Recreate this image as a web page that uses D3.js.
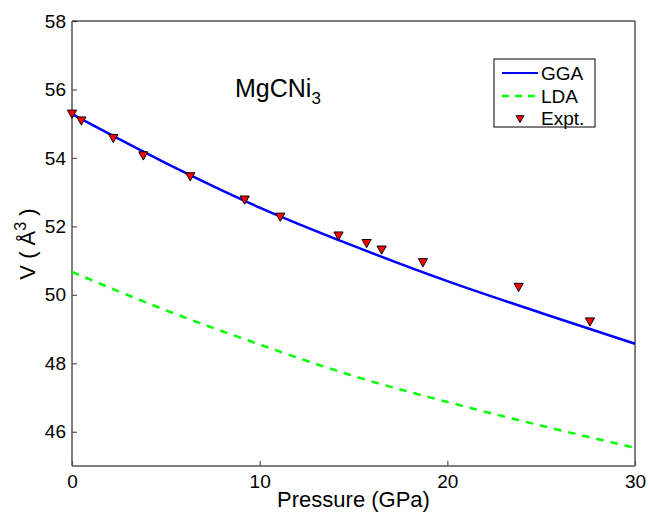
<!DOCTYPE html>
<html>
<head>
<meta charset="utf-8">
<script src="https://cdn.jsdelivr.net/npm/d3@7"></script>
<style>
body { margin: 0; background: #fff; }
text { font-family: "Liberation Sans", Arial, Helvetica, sans-serif; fill: #000; }
</style>
</head>
<body>
<svg id="chart" width="649" height="513"></svg>
<script>
// values
const pressure_ticks = [0, 10, 20, 30];
const volume_ticks = [46, 48, 50, 52, 54, 56, 58];

const gga_pressure = [0, 5, 10, 15, 20, 25, 30];
const gga_volume = [55.28, 53.85, 52.55, 51.43, 50.40, 49.47, 48.57];

const lda_pressure = [0, 5, 10, 15, 20, 25, 30];
const lda_volume = [50.67, 49.55, 48.55, 47.63, 46.87, 46.18, 45.53];

const expt_pressure = [0, 0.5, 2.2, 3.8, 6.3, 9.2, 11.1, 14.2, 15.7, 16.5, 18.7, 23.8, 27.6];
const expt_volume = [55.28, 55.08, 54.57, 54.06, 53.45, 52.77, 52.27, 51.72, 51.50, 51.31, 50.94, 50.22, 49.21];

const legend_labels = ["GGA", "LDA", "Expt."];

class EOSChart {
    constructor(container_id) {
        this.svg = d3.select("#" + container_id);
        this.left = 72;
        this.right = 635;
        this.top = 21;
        this.bottom = 466;
        this.x = d3.scaleLinear().domain([0, 30]).range([this.left, this.right]);
        this.y = d3.scaleLinear().domain([45, 58]).range([this.bottom, this.top]);
        // downward pointing triangle marker
        this.marker = "M-4.6,-4 L4.6,-4 L0,4.2 Z";
    }

    render() {
        const svg = this.svg;
        const x = this.x, y = this.y;
        const axis_color = "#555";

        // Axes with ticks pointing into the plot.
        const xAxis = svg.append("g")
            .attr("transform", `translate(0,${this.bottom})`)
            .call(d3.axisBottom(x).tickValues(pressure_ticks).tickSize(-5).tickPadding(9));
        const yAxis = svg.append("g")
            .attr("transform", `translate(${this.left},0)`)
            .call(d3.axisLeft(y).tickValues(volume_ticks).tickSize(-5).tickPadding(6));
        [xAxis, yAxis].forEach(a => {
            a.select(".domain").remove();
            a.selectAll("line").attr("stroke", axis_color).attr("stroke-width", 1.2);
            a.selectAll("text").style("font-size", "19px").attr("fill", "#000");
        });

        // Frame around the plot area.
        svg.append("line").attr("x1", this.left).attr("x2", this.right)
            .attr("y1", this.top).attr("y2", this.top).attr("stroke", "#000").attr("stroke-width", 1);
        svg.append("line").attr("x1", this.right).attr("x2", this.right)
            .attr("y1", this.top).attr("y2", this.bottom).attr("stroke", axis_color).attr("stroke-width", 1.5);
        svg.append("line").attr("x1", this.left).attr("x2", this.left)
            .attr("y1", this.top).attr("y2", this.bottom).attr("stroke", axis_color).attr("stroke-width", 1.5);
        svg.append("line").attr("x1", this.left).attr("x2", this.right)
            .attr("y1", this.bottom).attr("y2", this.bottom).attr("stroke", axis_color).attr("stroke-width", 1.5);

        const line = d3.line()
            .x(d => x(d[0]))
            .y(d => y(d[1]))
            .curve(d3.curveMonotoneX);

        // LDA curve
        svg.append("path")
            .datum(d3.zip(lda_pressure, lda_volume))
            .attr("fill", "none")
            .attr("stroke", "#00ff00")
            .attr("stroke-width", 2.5)
            .attr("stroke-dasharray", "7.5,7")
            .attr("d", line);

        // GGA curve
        svg.append("path")
            .datum(d3.zip(gga_pressure, gga_volume))
            .attr("fill", "none")
            .attr("stroke", "#0000ff")
            .attr("stroke-width", 2.5)
            .attr("d", line);

        // Experimental points
        svg.append("g").selectAll("path")
            .data(d3.zip(expt_pressure, expt_volume))
            .join("path")
            .attr("transform", d => `translate(${x(d[0])},${y(d[1])})`)
            .attr("d", this.marker)
            .attr("fill", "#ff0000")
            .attr("stroke", "#000")
            .attr("stroke-width", 1);

        // Compound name
        const title = svg.append("text")
            .attr("x", 235)
            .attr("y", 97)
            .style("font-size", "25px");
        title.append("tspan").text("MgCNi");
        title.append("tspan").attr("dy", 7).style("font-size", "17px").text("3");

        // Axis labels
        svg.append("text")
            .attr("x", (this.left + this.right) / 2)
            .attr("y", 507)
            .attr("text-anchor", "middle")
            .style("font-size", "22px")
            .text("Pressure (GPa)");

        const ylab = svg.append("text")
            .attr("transform", "translate(35,244) rotate(-90)")
            .attr("text-anchor", "middle")
            .style("font-size", "22px");
        ylab.append("tspan").text("V ( Å");
        ylab.append("tspan").attr("dy", -9).style("font-size", "16px").text("3");
        ylab.append("tspan").attr("dy", 9).text(" )");

        // Legend
        const legend = svg.append("g");
        legend.append("rect")
            .attr("x", 494).attr("y", 59)
            .attr("width", 101).attr("height", 68)
            .attr("fill", "#fff").attr("stroke", "#000").attr("stroke-width", 1);
        const rows = [73, 96, 118];
        legend.append("line").attr("x1", 502).attr("x2", 538)
            .attr("y1", rows[0]).attr("y2", rows[0])
            .attr("stroke", "#0000ff").attr("stroke-width", 2);
        legend.append("line").attr("x1", 502).attr("x2", 538)
            .attr("y1", rows[1]).attr("y2", rows[1])
            .attr("stroke", "#00ff00").attr("stroke-width", 2.5)
            .attr("stroke-dasharray", "7,6");
        legend.append("path")
            .attr("transform", `translate(520,${rows[2] + 1})`)
            .attr("d", "M-3.8,-3.3 L3.8,-3.3 L0,3.5 Z")
            .attr("fill", "#ff0000").attr("stroke", "#000").attr("stroke-width", 1);
        legend.selectAll("text.lab")
            .data(legend_labels)
            .join("text")
            .attr("class", "lab")
            .attr("x", 541)
            .attr("y", (d, i) => rows[i])
            .attr("dy", "0.36em")
            .style("font-size", "19px")
            .text(d => d);
    }
}

const chart = new EOSChart("chart");
chart.render();
</script>
</body>
</html>
